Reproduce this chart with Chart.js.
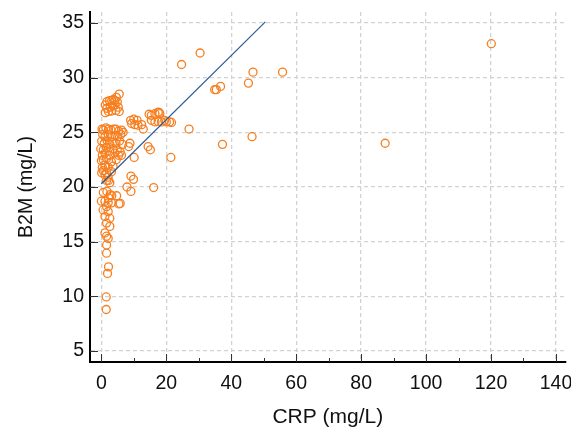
<!DOCTYPE html>
<html>
<head>
<meta charset="utf-8">
<script src="https://cdn.jsdelivr.net/npm/chart.js@4.4.1/dist/chart.umd.min.js"></script>
<style>
    html, body { margin: 0; padding: 0; background: #fff; }
</style>
</head>
<body>
<canvas id="scatterChart" width="571" height="430"></canvas>
<script>
'use strict';
// ===================== data =====================
const crpValues = [
    120.1, 30.4, 24.7, 46.7, 55.8, 45.3, 36.7, 34.9, 35.4, 27.0, 46.4, 37.3, 87.4, 21.4, 14.4, 15.1, 16.1, 21.6,
    9.0, 10.0, 11.0, 9.3, 10.3, 11.3, 12.4, 12.9, 14.7, 15.4, 16.5, 17.5, 18.0, 15.4, 16.5, 17.5, 18.5, 19.5, 20.0, 21.0, 17.8,
    10.1, 8.8, 8.4, 7.9, 9.1, 9.9, 9.1, 6.2,
    5.5, 4.6, 1.2, 1.7, 2.5, 3.2, 3.7, 4.2, 4.9, 1.7, 2.7, 3.5, 4.2, 5.2, 5.5, 1.2, 2.2, 3.2, 4.5,
    0.2, 0.6, 1.4, 2.2, 3.0, 3.8, 4.4, 5.3, 6.2, 6.7,
    0.4, 1.1, 2.1, 3.1, 4.2, 5.0, 6.0,
    0.1, 0.9, 1.8, 2.6, 3.6, 4.5, 5.6, 6.5,
    -0.2, 0.6, 1.6, 2.6, 3.6, 4.9, 5.8,
    0.3, 1.1, 2.6, 4.1, 5.3,
    0.0, 0.6, 1.6, 3.1, 4.6,
    0.3, 1.1, 2.1, 3.6,
    0.1, 0.6, 1.6, 3.1,
    1.1, 2.1,
    1.6, 2.6, 2.2,
    0.6, 1.7, 2.7, 2.2, 3.2, 4.7, 5.4,
    0.0, 1.1, 2.1, 3.1, 5.8, 1.6,
    0.55, 2.1, 1.1, 2.6, 1.6, 2.6, 1.1, 1.6, 2.1, 1.6, 1.6,
    2.2, 1.9, 1.5, 1.5
];
const b2mValues = [
    33.1, 32.25, 31.2, 30.5, 30.5, 29.5, 29.2, 28.9, 28.9, 25.3, 24.6, 23.9, 24.0, 22.7, 23.7, 23.4, 19.95, 25.9,
    26.1, 26.2, 26.1, 25.8, 25.7, 25.65, 25.7, 25.3, 26.65, 26.55, 26.7, 26.85, 26.7, 26.1, 25.95, 26.0, 25.95, 26.1, 25.95, 25.95, 26.8,
    22.7, 24.0, 23.7, 20.0, 19.6, 20.7, 21.0, 22.9,
    28.5, 28.2, 27.5, 27.8, 27.9, 27.9, 28.0, 27.9, 27.8, 27.2, 27.3, 27.4, 27.5, 27.3, 26.9, 26.8, 26.9, 26.95, 27.0,
    25.3, 25.2, 25.4, 25.3, 25.2, 25.3, 25.3, 25.1, 25.2, 25.0,
    24.8, 24.6, 24.8, 24.6, 24.7, 24.6, 24.8,
    24.2, 24.0, 24.2, 23.9, 24.1, 24.0, 24.2, 23.9,
    23.5, 23.4, 23.6, 23.3, 23.5, 23.4, 23.2,
    22.9, 23.1, 22.9, 23.1, 22.9,
    22.4, 22.5, 22.6, 22.3, 22.5,
    21.8, 22.0, 21.8, 21.9,
    21.3, 21.5, 21.3, 21.4,
    21.1, 20.9,
    20.6, 20.4, 20.6,
    19.5, 19.6, 19.3, 19.0, 19.2, 19.2, 18.45,
    18.7, 18.7, 18.55, 18.55, 18.5, 18.2,
    17.9, 17.75, 17.3, 17.15, 16.7, 16.4, 15.8, 15.5, 15.3, 14.7, 13.95,
    12.7, 12.1, 9.95, 8.8
];
const fitCrp = [0, 50.5];
const fitB2m = [20.3, 35.1];

const xTickValues = [0, 20, 40, 60, 80, 100, 120, 140];
const xMinorValues = [10, 30, 50, 70, 90, 110, 130];
const yTickValues = [5, 10, 15, 20, 25, 30, 35];

// ===================== chart =====================
const FONT = 'Liberation Sans, Arial, sans-serif';

// ticks drawn inward from the axis lines
const innerTicks = {
    id: 'innerTicks',
    afterDraw(chart) {
        const { ctx, chartArea, scales: { x, y } } = chart;
        ctx.save();
        ctx.strokeStyle = '#333';
        ctx.lineWidth = 1;
        ctx.beginPath();
        xTickValues.forEach(v => {
            const px = Math.round(x.getPixelForValue(v)) + 0.5;
            ctx.moveTo(px, chartArea.bottom);
            ctx.lineTo(px, chartArea.bottom - 8);
        });
        xMinorValues.forEach(v => {
            const px = Math.round(x.getPixelForValue(v)) + 0.5;
            ctx.moveTo(px, chartArea.bottom);
            ctx.lineTo(px, chartArea.bottom - 4);
        });
        yTickValues.forEach(v => {
            const py = Math.round(y.getPixelForValue(v)) + 0.5;
            ctx.moveTo(chartArea.left, py);
            ctx.lineTo(chartArea.left + 8, py);
        });
        ctx.stroke();
        ctx.restore();
    }
};

const points = crpValues.map((c, i) => ({ x: c, y: b2mValues[i] }));
const fitLine = fitCrp.map((c, i) => ({ x: c, y: fitB2m[i] }));

const gridOpts = { color: '#d2d2d2', lineWidth: 1.3, drawTicks: false };
const borderOpts = { display: true, color: '#000', width: 2, dash: [4, 3] };

new Chart(document.getElementById('scatterChart').getContext('2d'), {
    type: 'scatter',
    data: {
        datasets: [
            {
                type: 'line',
                data: fitLine,
                borderColor: '#2a5a96',
                borderWidth: 1.2,
                pointRadius: 0,
                fill: false,
                order: 0
            },
            {
                data: points,
                pointStyle: 'circle',
                pointRadius: 4,
                pointBorderWidth: 1.3,
                borderColor: '#f77f1f',
                backgroundColor: 'rgba(255,255,255,0)',
                order: 1
            }
        ]
    },
    options: {
        responsive: false,
        animation: false,
        devicePixelRatio: 1,
        layout: { padding: { left: 0, right: 3, top: 12, bottom: 0 } },
        scales: {
            x: {
                type: 'linear',
                min: -3.5,
                max: 143,
                afterBuildTicks: s => { s.ticks = xTickValues.map(v => ({ value: v })); },
                afterFit: s => { s.height = 68; s.paddingLeft = 0; s.paddingRight = 0; },
                grid: gridOpts,
                border: borderOpts,
                ticks: { color: '#111', padding: 10, font: { family: FONT, size: 19.5 } },
                title: { display: true, text: 'CRP (mg/L)', color: '#111', padding: { top: 0, bottom: 0 }, font: { family: FONT, size: 21 } }
            },
            y: {
                type: 'linear',
                min: 4,
                max: 36,
                afterBuildTicks: s => { s.ticks = yTickValues.map(v => ({ value: v })); },
                afterFit: s => { s.width = 90; s.paddingTop = 0; s.paddingBottom = 0; },
                grid: gridOpts,
                border: borderOpts,
                ticks: { color: '#111', padding: 6, font: { family: FONT, size: 19.5 } },
                title: { display: true, text: 'B2M (mg/L)', color: '#111', padding: { top: 15, bottom: 0 }, font: { family: FONT, size: 19.5 } }
            }
        },
        plugins: {
            legend: { display: false },
            tooltip: { enabled: false }
        },
        events: []
    },
    plugins: [innerTicks]
});
</script>
</body>
</html>
